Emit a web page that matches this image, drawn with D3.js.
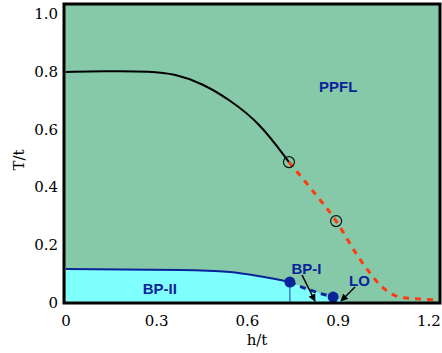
<!DOCTYPE html>
<html>
<head>
<meta charset="utf-8">
<script src="https://cdn.jsdelivr.net/npm/d3@7"></script>
<style>
  body { margin: 0; background: #fff; }
</style>
</head>
<body>
<svg id="chart" width="442" height="353"></svg>
<script>
// phase boundaries (h/t, T/t)
const ppflSolid = [[0, 0.796], [0.15, 0.799], [0.28, 0.798], [0.36, 0.789], [0.45, 0.757], [0.542, 0.699], [0.641, 0.619], [0.737, 0.484]];
const ppflDashed = [[0.737, 0.484], [0.813, 0.388], [0.893, 0.28], [0.962, 0.163], [1.005, 0.1], [1.038, 0.059], [1.071, 0.031], [1.104, 0.017], [1.17, 0.01], [1.23, 0.007]];
const bpSolid = [[0, 0.114], [0.377, 0.111], [0.542, 0.104], [0.651, 0.087], [0.74, 0.069]];
const bpDashed = [[0.74, 0.069], [0.81, 0.04], [0.883, 0.017]];
const openPoints = [[0.737, 0.484], [0.893, 0.28]];
const bluePoints = [[0.74, 0.069], [0.883, 0.017]];
const xTicks = [0, 0.3, 0.6, 0.9, 1.2];
const yTicks = [0, 0.2, 0.4, 0.6, 0.8, 1.0];
const regionLabels = [["PPFL", 0.9, 0.74], ["BP-II", 0.31, 0.04], ["BP-I", 0.795, 0.11], ["LO", 0.97, 0.07]];

const svg = d3.select("#chart");
const x = d3.scaleLinear().domain([0, 1.2]).range([66, 429]);
const y = d3.scaleLinear().domain([0, 1]).range([302, 13]);
const x0 = 64, x1 = 440, y0 = 4, y1 = 303;
const serif = "'DejaVu Serif', 'Liberation Serif', serif";

svg.append("rect")
  .attr("x", x0).attr("y", y0)
  .attr("width", x1 - x0).attr("height", y1 - y0)
  .attr("fill", "#85c9a9");

// BP region fill
const fillPts = bpSolid.concat(bpDashed.slice(1), [[0.925, 0], [0, 0]]);
svg.append("path")
  .attr("d", d3.line().x(d => x(d[0])).y(d => y(d[1]))(fillPts) + "Z")
  .attr("fill", "#80ffff");

const line = d3.line().x(d => x(d[0])).y(d => y(d[1])).curve(d3.curveMonotoneX);
const smooth = d3.line().x(d => x(d[0])).y(d => y(d[1])).curve(d3.curveBasis);

svg.append("line")
  .attr("x1", x(bluePoints[0][0])).attr("x2", x(bluePoints[0][0]))
  .attr("y1", y(bluePoints[0][1])).attr("y2", y1)
  .attr("stroke", "#3a7fc8").attr("stroke-width", 1.5);

svg.append("path").attr("d", smooth(ppflSolid))
  .attr("fill", "none").attr("stroke", "#000").attr("stroke-width", 2);
svg.append("path").attr("d", line(ppflDashed))
  .attr("fill", "none").attr("stroke", "#ff3a10").attr("stroke-width", 3)
  .attr("stroke-dasharray", "6,6");
svg.append("path").attr("d", line(bpSolid))
  .attr("fill", "none").attr("stroke", "#0a2399").attr("stroke-width", 2);
svg.append("path").attr("d", line(bpDashed))
  .attr("fill", "none").attr("stroke", "#0a2399").attr("stroke-width", 3)
  .attr("stroke-dasharray", "6,5");

svg.selectAll(".open").data(openPoints).enter().append("circle")
  .attr("cx", d => x(d[0])).attr("cy", d => y(d[1])).attr("r", 5.5)
  .attr("fill", "none").attr("stroke", "#111").attr("stroke-width", 1.2);
svg.selectAll(".dot").data(bluePoints).enter().append("circle")
  .attr("cx", d => x(d[0])).attr("cy", d => y(d[1])).attr("r", 5.5)
  .attr("fill", "#0a2399");

// arrows
svg.append("defs").append("marker")
  .attr("id", "arr").attr("viewBox", "0 0 10 10")
  .attr("refX", 9).attr("refY", 5)
  .attr("markerWidth", 5).attr("markerHeight", 5)
  .attr("orient", "auto")
  .append("path").attr("d", "M0,0L10,5L0,10Z").attr("fill", "#000");
const arrows = [[302, 275, 315, 301], [355, 287, 341, 301]];
svg.selectAll(".arrow").data(arrows).enter().append("line")
  .attr("x1", d => d[0]).attr("y1", d => d[1])
  .attr("x2", d => d[2]).attr("y2", d => d[3])
  .attr("stroke", "#000").attr("stroke-width", 1.5)
  .attr("marker-end", "url(#arr)");

svg.selectAll(".lbl").data(regionLabels).enter().append("text")
  .attr("x", d => x(d[1])).attr("y", d => y(d[2]))
  .attr("text-anchor", "middle").attr("dominant-baseline", "middle")
  .style("font-family", "'Liberation Sans', Arial, sans-serif")
  .style("font-weight", "bold").style("font-size", "15px")
  .attr("fill", "#0a2399")
  .text(d => d[0]);

// frame
svg.append("rect")
  .attr("x", x0).attr("y", y0)
  .attr("width", x1 - x0).attr("height", y1 - y0)
  .attr("fill", "none").attr("stroke", "#000").attr("stroke-width", 3);

svg.selectAll(".xt").data(xTicks).enter().append("text")
  .attr("x", d => x(d)).attr("y", 326)
  .attr("text-anchor", "middle")
  .style("font-family", serif).style("font-size", "15px")
  .text(d => d === 0 ? "0" : d.toFixed(1));
svg.selectAll(".yt").data(yTicks).enter().append("text")
  .attr("x", 58).attr("y", d => y(d) + 6)
  .attr("text-anchor", "end")
  .style("font-family", serif).style("font-size", "15px")
  .text(d => d === 0 ? "0" : d.toFixed(1));

svg.append("text")
  .attr("x", 257).attr("y", 345)
  .attr("text-anchor", "middle")
  .style("font-family", serif).style("font-size", "15px")
  .text("h/t");
svg.append("text")
  .attr("transform", "translate(24,160) rotate(-90)")
  .attr("text-anchor", "middle")
  .style("font-family", serif).style("font-size", "15px")
  .text("T/t");
</script>
</body>
</html>
